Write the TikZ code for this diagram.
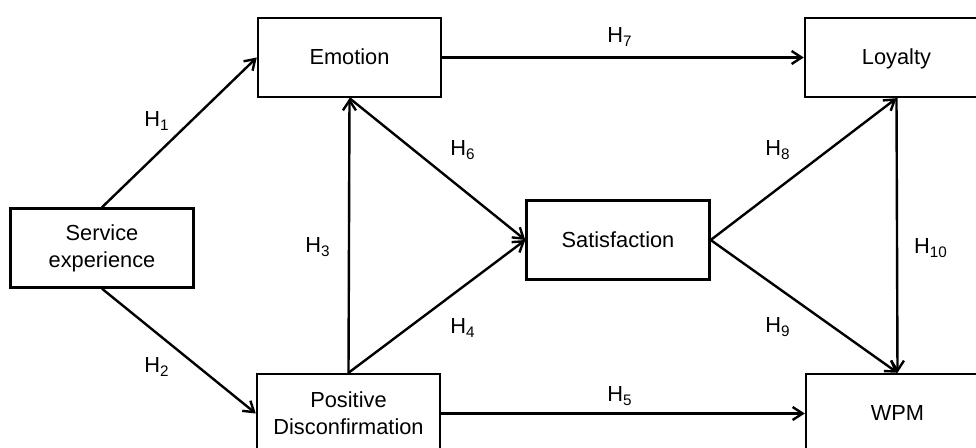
\documentclass[tikz,border=0pt]{standalone}
\usepackage{fontspec}
\setmainfont{Liberation Sans}
\usetikzlibrary{arrows.meta}
\newcommand{\hyp}[1]{H\textsubscript{#1}}
\tikzset{
  construct/.style={draw,line width=1.2pt,minimum width=91.5pt,minimum height=39.5pt,inner sep=0pt,align=center,font=\fontsize{10.9}{13.5}\selectfont},
  oneline/.style={text height=0.72em,text depth=0pt},
  path arrow/.style={line width=1.2pt,-{Straight Barb[length=5pt,width=6.5pt,line width=1.2pt]}},
  hlabel/.style={font=\fontsize{10.9}{13}\selectfont,inner sep=0pt}
}
\begin{document}
\begin{tikzpicture}[x=0.5pt,y=-0.5pt]
\useasboundingbox (0,0) rectangle (976,448);
\clip (0,0) rectangle (976,448);
\node[construct] (se) at (102,248) {Service\\experience};
\node[construct,oneline] (emo) at (349.5,57.5) {Emotion};
\node[construct] (pd) at (348.5,413.5) {Positive\\Disconfirmation};
\node[construct,oneline] (sat) at (618,240) {Satisfaction};
\node[construct,oneline] (loy) at (896.5,57.5) {Loyalty};
\node[construct,oneline] (wpm) at (897.5,413.5) {WPM};
% paths
\draw[path arrow] (se.north) -- (emo.west);
\draw[path arrow] (se.south) -- (pd.west);
\draw[path arrow] (pd.north) -- (emo.south);
\draw[path arrow] (emo.south) -- (sat.west);
\draw[path arrow] (pd.north) -- (sat.west);
\draw[path arrow] (emo.east) -- (loy.west);
\draw[path arrow] (pd.east) -- (wpm.west);
\draw[path arrow] (sat.east) -- (loy.south);
\draw[path arrow] (sat.east) -- (wpm.north);
\draw[path arrow] (loy.south) -- (wpm.north);
% hypotheses
\node[hlabel] (h1) at (157,121) {\hyp{1}};
\node[hlabel] (h2) at (157,367) {\hyp{2}};
\node[hlabel] (h3) at (318,247) {\hyp{3}};
\node[hlabel] (h4) at (463,328) {\hyp{4}};
\node[hlabel] (h5) at (620,396) {\hyp{5}};
\node[hlabel] (h6) at (463,150) {\hyp{6}};
\node[hlabel] (h7) at (620,37) {\hyp{7}};
\node[hlabel] (h8) at (778,150) {\hyp{8}};
\node[hlabel] (h9) at (778,327) {\hyp{9}};
\node[hlabel] (h10) at (931,248) {\hyp{10}};
\end{tikzpicture}
\end{document}
